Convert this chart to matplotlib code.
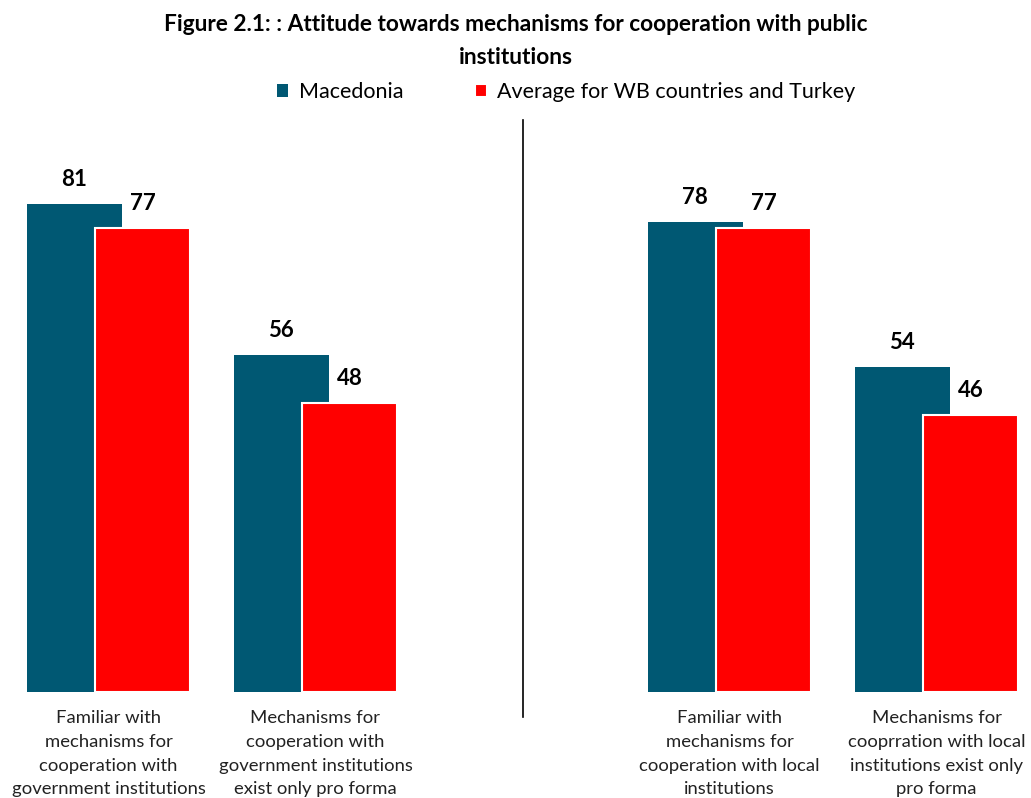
import matplotlib
matplotlib.use('Agg')
import matplotlib.pyplot as plt
import numpy as np

plt.rcParams['font.family'] = ['Lato', 'DejaVu Sans']

title = 'Figure 2.1: : Attitude towards mechanisms for cooperation with public\ninstitutions'
series_names = ['Macedonia', 'Average for WB countries and Turkey']
categories = [
    'Familiar with\nmechanisms for\ncooperation with\ngovernment institutions',
    'Mechanisms for\ncooperation with\ngovernment institutions\nexist only pro forma',
    'Familiar with\nmechanisms for\ncooperation with local\ninstitutions',
    'Mechanisms for\ncooprration with local\ninstitutions exist only\npro forma',
]
macedonia = [81, 56, 78, 54]
wb_average = [77, 48, 77, 46]

teal = '#005873'
red = '#ff0000'

# the two pairs of groups are split by an empty slot in the middle
pos = np.array([0, 1, 3, 4])
width = 0.46
shift = 0.165

fig = plt.figure(figsize=(10.31, 7.98), dpi=100)
ax = fig.add_axes([0.0, 1 - 692 / 798, 1.0, (692 - 120) / 798])

b1 = ax.bar(pos - shift, macedonia, width, color=teal, zorder=2, label=series_names[0])
b2 = ax.bar(pos + shift, wb_average, width, color=red, edgecolor='white',
            linewidth=1.5, zorder=3, label=series_names[1])

for rect, v in zip(b1, macedonia):
    ax.text(rect.get_x() + rect.get_width() / 2, v + 4.1, str(v), ha='center',
            va='center', fontsize=16, fontweight='bold')
for rect, v in zip(b2, wb_average):
    ax.text(rect.get_x() + rect.get_width() / 2, v + 4.1, str(v), ha='center',
            va='center', fontsize=16, fontweight='bold')

ax.set_xlim(-108.5 / 207, (1031 - 108.5) / 207)
ax.set_ylim(0, 95)
ax.set_xticks(pos)
ax.set_xticklabels(categories, fontsize=13.3, color='#222222', linespacing=1.6)
ax.tick_params(axis='x', length=0, pad=13)
ax.set_yticks([])
for s in ax.spines.values():
    s.set_visible(False)

# divider between government and local institutions
ax.plot([2, 2], [95, -4.2], color='black', lw=1.2, clip_on=False)

fig.text(0.5, 1 - 41 / 798, title, ha='center', va='center', fontsize=16.3,
         fontweight='bold', linespacing=1.75)
fig.legend(loc='center', bbox_to_anchor=(0.549, 1 - 92 / 798), ncol=2, frameon=False,
           fontsize=15.5, handlelength=0.55, handleheight=0.55, handletextpad=0.5,
           columnspacing=3.3)

fig.savefig('out.png', dpi=100)
